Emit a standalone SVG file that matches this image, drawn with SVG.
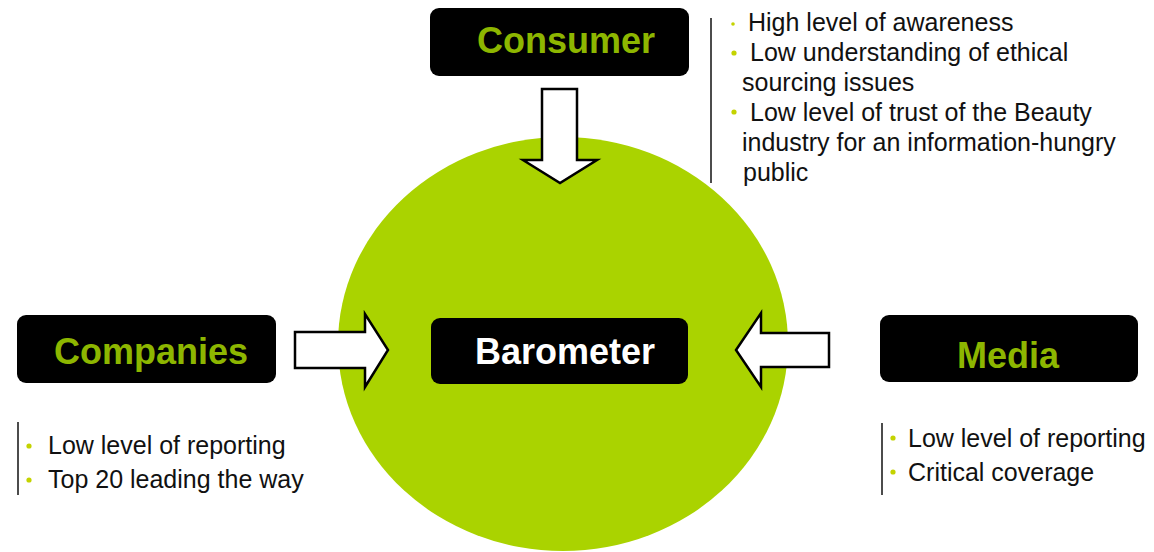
<svg xmlns="http://www.w3.org/2000/svg" width="1154" height="552" viewBox="0 0 1154 552">
<style>
.box{fill:#000;}
.title{font-family:"Liberation Sans",Arial,sans-serif;font-weight:bold;font-size:36px;text-anchor:middle;}
.green{fill:#8db600;}
.white{fill:#fff;}
.body{font-family:"Liberation Sans",Arial,sans-serif;font-size:25px;fill:#111;}
.bul{fill:#c4d300;}
.vline{stroke:#111;stroke-width:1.5;}
.arrow{fill:#fff;stroke:#000;stroke-width:2.5;stroke-linejoin:miter;}
</style>
<rect width="1154" height="552" fill="#fff"/>
<ellipse id="circle" cx="563" cy="344" rx="225" ry="207" fill="#aad300"/>
<g id="connectors">
<polygon class="arrow" points="542,89 577,89 577,160 597,160 560,183 523,160 542,160"/>
<polygon class="arrow" points="295,332 365,332 365,314 388,350 365,387 365,368 295,368"/>
<polygon class="arrow" points="829,333 761,333 761,313 736,350 761,387 761,367 829,367"/>
</g>
<g id="consumer">
<rect class="box" x="430" y="8" width="259" height="68" rx="9"/>
<text class="title green" x="566" y="53">Consumer</text>
</g>
<g id="companies">
<rect class="box" x="17" y="315" width="259" height="68" rx="9"/>
<text class="title green" x="151" y="364">Companies</text>
</g>
<g id="barometer">
<rect class="box" x="431" y="318" width="257" height="66" rx="9"/>
<text class="title white" x="565" y="364">Barometer</text>
</g>
<g id="media">
<rect class="box" x="880" y="315" width="258" height="67" rx="9"/>
<text class="title green" x="1008" y="368">Media</text>
</g>
<g id="consumer-notes">
<line class="vline" x1="711" y1="18" x2="711" y2="183"/>
<circle class="bul" cx="733" cy="24" r="1.8"/>
<circle class="bul" cx="734" cy="53" r="2.6"/>
<circle class="bul" cx="734" cy="112" r="2.6"/>
<text class="body" x="748" y="31">High level of awareness</text>
<text class="body" x="750" y="61">Low understanding of ethical</text>
<text class="body" x="742" y="91">sourcing issues</text>
<text class="body" x="750" y="121">Low level of trust of the Beauty</text>
<text class="body" x="742" y="151">industry for an information-hungry</text>
<text class="body" x="743" y="181">public</text>
</g>
<g id="companies-notes">
<line class="vline" x1="18" y1="422" x2="18" y2="495"/>
<circle class="bul" cx="29" cy="446" r="2.6"/>
<circle class="bul" cx="29" cy="480" r="2.6"/>
<text class="body" x="48" y="454">Low level of reporting</text>
<text class="body" x="48" y="488">Top 20 leading the way</text>
</g>
<g id="media-notes">
<line class="vline" x1="882" y1="423" x2="882" y2="495"/>
<circle class="bul" cx="893" cy="438" r="2.6"/>
<circle class="bul" cx="893" cy="472" r="2.6"/>
<text class="body" x="908" y="447">Low level of reporting</text>
<text class="body" x="908" y="481">Critical coverage</text>
</g>
</svg>
